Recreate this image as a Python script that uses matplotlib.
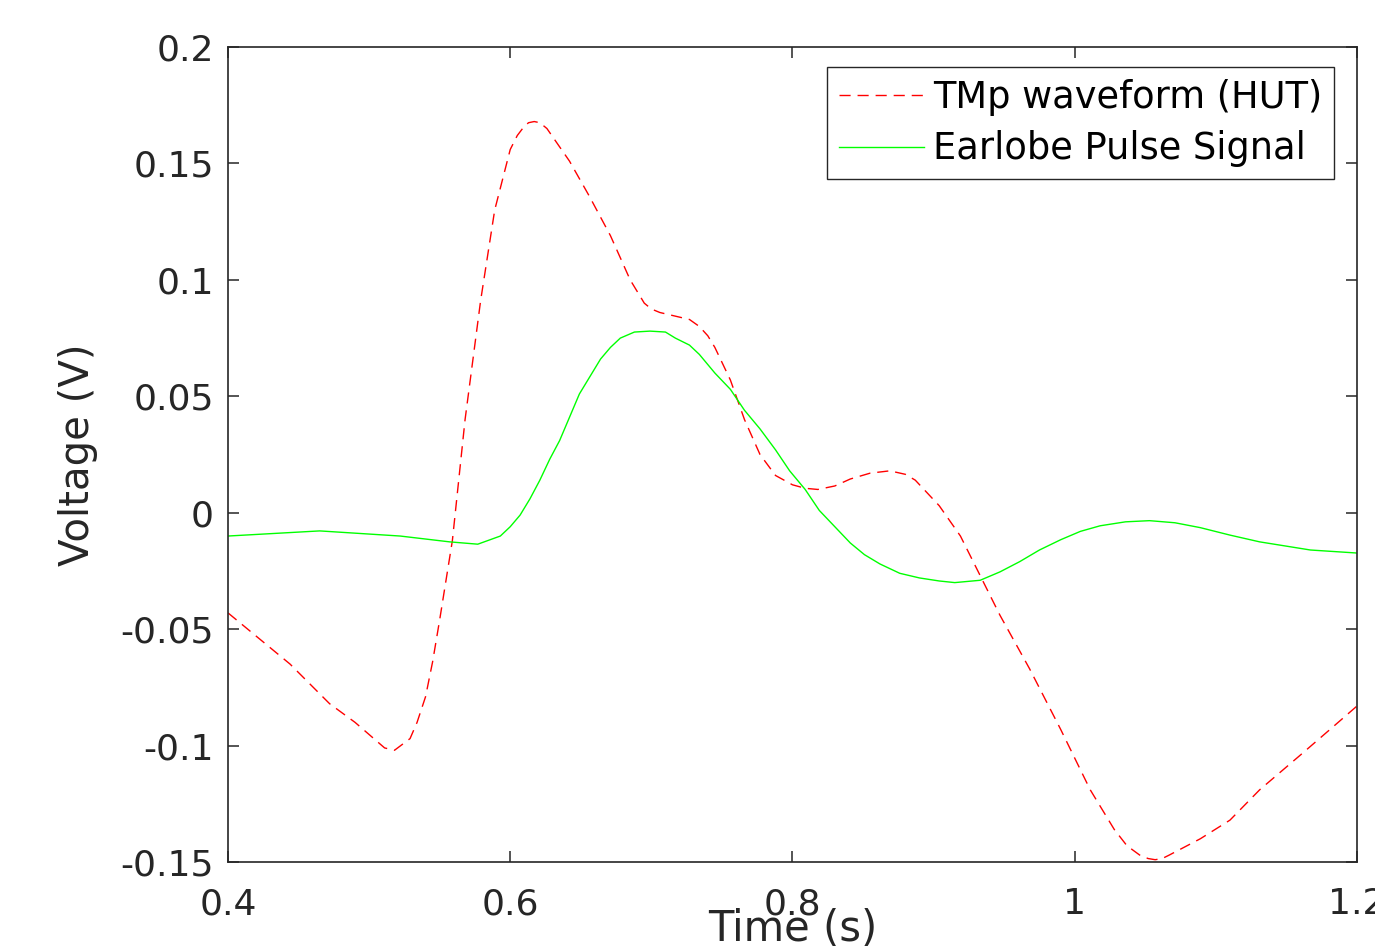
import matplotlib
matplotlib.use('Agg')
import matplotlib.pyplot as plt

# TMp waveform (HUT)
t_tmp = [0.400, 0.444, 0.472, 0.490, 0.511, 0.518, 0.529, 0.534, 0.540, 0.545,
         0.550, 0.559, 0.568, 0.579, 0.589, 0.600, 0.605, 0.610, 0.613, 0.617,
         0.621, 0.626, 0.634, 0.642, 0.656, 0.671, 0.685, 0.695, 0.700, 0.706,
         0.713, 0.720, 0.727, 0.734, 0.740, 0.745, 0.756, 0.766, 0.777, 0.788,
         0.800, 0.809, 0.818, 0.830, 0.841, 0.855, 0.869, 0.880, 0.887, 0.904,
         0.919, 0.933, 0.947, 0.968, 0.990, 1.011, 1.028, 1.037, 1.046, 1.052,
         1.057, 1.062, 1.067, 1.089, 1.110, 1.131, 1.160, 1.181, 1.200]
v_tmp = [-0.043, -0.065, -0.082, -0.090, -0.101, -0.102, -0.097, -0.090, -0.079, -0.064,
         -0.046, -0.012, 0.040, 0.091, 0.130, 0.156, 0.162, 0.166, 0.1675, 0.168,
         0.1675, 0.165, 0.158, 0.151, 0.136, 0.119, 0.100, 0.090, 0.0875, 0.086,
         0.085, 0.084, 0.083, 0.080, 0.076, 0.071, 0.057, 0.040, 0.025, 0.016,
         0.012, 0.0105, 0.010, 0.0115, 0.0145, 0.017, 0.018, 0.0165, 0.014, 0.003,
         -0.010, -0.027, -0.044, -0.067, -0.093, -0.119, -0.136, -0.143, -0.147, -0.1485,
         -0.149, -0.1485, -0.147, -0.140, -0.132, -0.119, -0.104, -0.093, -0.083]

# Earlobe pulse signal
t_ear = [0.400, 0.465, 0.522, 0.557, 0.577, 0.593, 0.600, 0.607, 0.614, 0.621,
         0.628, 0.635, 0.642, 0.649, 0.656, 0.664, 0.671, 0.678, 0.688, 0.699,
         0.710, 0.717, 0.727, 0.734, 0.745, 0.756, 0.766, 0.777, 0.788, 0.798,
         0.809, 0.819, 0.830, 0.841, 0.851, 0.862, 0.876, 0.890, 0.904, 0.915,
         0.933, 0.947, 0.961, 0.975, 0.990, 1.004, 1.018, 1.036, 1.053, 1.071,
         1.089, 1.110, 1.131, 1.167, 1.200]
v_ear = [-0.010, -0.0078, -0.010, -0.0125, -0.0135, -0.010, -0.006, -0.001, 0.006, 0.014,
         0.023, 0.031, 0.041, 0.051, 0.058, 0.066, 0.071, 0.075, 0.0776, 0.078,
         0.0776, 0.075, 0.072, 0.068, 0.060, 0.053, 0.044, 0.036, 0.027, 0.018,
         0.010, 0.001, -0.006, -0.013, -0.018, -0.022, -0.026, -0.028, -0.0293, -0.030,
         -0.029, -0.0254, -0.021, -0.016, -0.0116, -0.008, -0.0056, -0.0039, -0.0034, -0.0043,
         -0.0064, -0.0096, -0.0125, -0.016, -0.0173]

xticks = [0.4, 0.6, 0.8, 1.0, 1.2]
xlabels = ['0.4', '0.6', '0.8', '1', '1.2']
yticks = [-0.15, -0.1, -0.05, 0, 0.05, 0.1, 0.15, 0.2]
ylabels = ['-0.15', '-0.1', '-0.05', '0', '0.05', '0.1', '0.15', '0.2']

plt.rcParams['font.family'] = ['DejaVu Sans']
ink = '#262626'

fig = plt.figure(figsize=(13.75, 9.52), dpi=100)
ax = fig.add_axes([0.1658, 0.0945, 0.8211, 0.8561])

ax.plot(t_tmp, v_tmp, color=(1, 0, 0), lw=1.0, linestyle=(0, (8, 5)), label='TMp waveform (HUT)')
ax.plot(t_ear, v_ear, color=(0, 1, 0), lw=1.0, label='Earlobe Pulse Signal')

ax.set_xlim(0.4, 1.2)
ax.set_ylim(-0.15, 0.2)
ax.set_xticks(xticks)
ax.set_xticklabels(xlabels)
ax.set_yticks(yticks)
ax.set_yticklabels(ylabels)

ax.tick_params(direction='in', length=8, width=1.1, colors=ink, labelsize=26,
               top=True, right=True)
ax.tick_params(axis='x', pad=18)
ax.tick_params(axis='y', pad=10)
for s in ax.spines.values():
    s.set_color(ink)
    s.set_linewidth(1.2)

ax.set_xlabel('Time (s)', fontsize=30, color=ink, va='top')
ax.xaxis.set_label_coords(0.5, -0.057)
ax.set_ylabel('Voltage (V)', fontsize=29, color=ink)
ax.yaxis.set_label_coords(-0.115, 0.5)

leg = ax.legend(loc='upper right', bbox_to_anchor=(0.9796, 0.9755), borderaxespad=0,
                fontsize=26.5, frameon=True, fancybox=False, framealpha=1,
                handlelength=2.3, handletextpad=0.25, borderpad=0.32, labelspacing=0.4)
leg.get_frame().set_edgecolor(ink)
leg.get_frame().set_linewidth(1.0)

fig.savefig('out.png', dpi=100)
